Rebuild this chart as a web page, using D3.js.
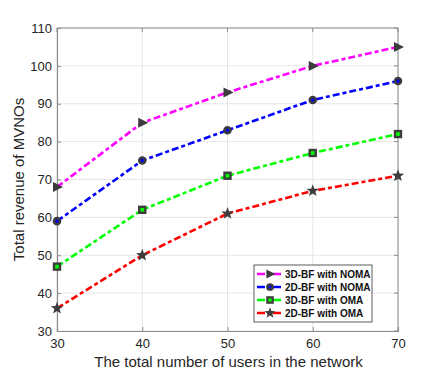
<!DOCTYPE html>
<html>
<head>
<meta charset="utf-8">
<script src="https://cdn.jsdelivr.net/npm/d3@7"></script>
<style>
  body { margin: 0; background: #fff; }
  text { font-family: "Liberation Sans", Arial, sans-serif; }
</style>
</head>
<body>
<svg id="chart" width="440" height="373"></svg>
<script>
const users = [30, 40, 50, 60, 70];
const noma3d = [68, 85, 93, 100, 105];
const noma2d = [59, 75, 83, 91, 96];
const oma3d = [47, 62, 71, 77, 82];
const oma2d = [36, 50, 61, 67, 71];
const seriesNames = ["3D-BF with NOMA", "2D-BF with NOMA", "3D-BF with OMA", "2D-BF with OMA"];
const xTicks = [30, 40, 50, 60, 70];
const yTicks = [30, 40, 50, 60, 70, 80, 90, 100, 110];

const series = [
  { name: seriesNames[0], values: noma3d, color: "#ff00ff", marker: "tri" },
  { name: seriesNames[1], values: noma2d, color: "#0000ff", marker: "circle" },
  { name: seriesNames[2], values: oma3d, color: "#00ff00", marker: "square" },
  { name: seriesNames[3], values: oma2d, color: "#ff0000", marker: "star" }
];

const svg = d3.select("#chart");
const plotL = 57, plotR = 398, plotT = 28, plotB = 331;

const x = d3.scaleLinear().domain([30, 70]).range([plotL, plotR]);
const y = d3.scaleLinear().domain([30, 110]).range([plotB, plotT]);

// grid
svg.append("g").selectAll("line").data(xTicks).join("line")
  .attr("x1", d => x(d)).attr("x2", d => x(d))
  .attr("y1", plotT).attr("y2", plotB)
  .attr("stroke", "#e6e6e6").attr("stroke-width", 1);
svg.append("g").selectAll("line").data(yTicks).join("line")
  .attr("x1", plotL).attr("x2", plotR)
  .attr("y1", d => y(d)).attr("y2", d => y(d))
  .attr("stroke", "#e6e6e6").attr("stroke-width", 1);

// axes
const xAxis = svg.append("g").attr("transform", `translate(0,${plotB})`)
  .call(d3.axisBottom(x).tickValues(xTicks).tickSize(-4).tickPadding(8));
const yAxis = svg.append("g").attr("transform", `translate(${plotL},0)`)
  .call(d3.axisLeft(y).tickValues(yTicks).tickSize(-4).tickPadding(5));
[xAxis, yAxis].forEach(a => {
  a.select(".domain").attr("stroke", "#8c8c8c").attr("stroke-width", 1.2);
  a.selectAll(".tick line").attr("stroke", "#8c8c8c");
  a.selectAll("text").attr("fill", "#262626").style("font-size", "13px")
    .style("font-family", "'Liberation Sans', Arial, sans-serif");
});
// top and right box edges
svg.append("path")
  .attr("d", `M${plotL},${plotT}H${plotR}V${plotB}`)
  .attr("fill", "none").attr("stroke", "#8c8c8c").attr("stroke-width", 1);
svg.append("g").selectAll("line").data(xTicks).join("line")
  .attr("x1", d => x(d)).attr("x2", d => x(d))
  .attr("y1", plotT).attr("y2", plotT + 4).attr("stroke", "#8c8c8c");
svg.append("g").selectAll("line").data(yTicks).join("line")
  .attr("x1", plotR).attr("x2", plotR - 4)
  .attr("y1", d => y(d)).attr("y2", d => y(d)).attr("stroke", "#8c8c8c");

// labels
svg.append("text").attr("x", (plotL + plotR) / 2 + 1).attr("y", 367)
  .attr("text-anchor", "middle").attr("fill", "#262626").style("font-size", "15px")
  .text("The total number of users in the network");
svg.append("text").attr("transform", `translate(24,${(plotT + plotB) / 2}) rotate(-90)`)
  .attr("text-anchor", "middle").attr("fill", "#262626").style("font-size", "15px")
  .text("Total revenue of MVNOs");

const markColor = "#3c3c3c";
function drawMarker(g, type, cx, cy, color, s) {
  s = s || 1;
  if (type === "tri") {
    g.append("path")
      .attr("d", `M${cx - 4 * s},${cy - 5 * s}L${cx + 6 * s},${cy}L${cx - 4 * s},${cy + 5 * s}Z`)
      .attr("fill", markColor);
  } else if (type === "circle") {
    g.append("circle").attr("cx", cx).attr("cy", cy).attr("r", 3 * s)
      .attr("fill", color).attr("stroke", markColor).attr("stroke-width", 2.6 * s);
  } else if (type === "square") {
    g.append("rect").attr("x", cx - 3 * s).attr("y", cy - 3 * s)
      .attr("width", 6 * s).attr("height", 6 * s)
      .attr("fill", color).attr("stroke", markColor).attr("stroke-width", 2.4 * s);
  } else if (type === "star") {
    const pts = [];
    for (let i = 0; i < 10; i++) {
      const r = (i % 2 === 0 ? 6.5 : 2.7) * s;
      const a = -Math.PI / 2 + i * Math.PI / 5;
      pts.push([cx + r * Math.cos(a), cy + r * Math.sin(a)]);
    }
    g.append("path").attr("d", "M" + pts.join("L") + "Z").attr("fill", markColor);
  }
}

const line = d3.line().x((d, i) => x(users[i])).y(d => y(d));

series.forEach(s => {
  svg.append("path").datum(s.values)
    .attr("d", line)
    .attr("fill", "none").attr("stroke", s.color)
    .attr("stroke-width", 2.6)
    .attr("stroke-dasharray", "7,3,4,3");
  const g = svg.append("g");
  s.values.forEach((v, i) => drawMarker(g, s.marker, x(users[i]), y(v), s.color));
});

// legend
const lg = svg.append("g");
lg.append("rect").attr("x", 254).attr("y", 265).attr("width", 118).attr("height", 57)
  .attr("fill", "#fff").attr("stroke", "#333").attr("stroke-width", 0.8);
series.forEach((s, i) => {
  const ly = 274 + i * 13;
  lg.append("line").attr("x1", 257).attr("x2", 283).attr("y1", ly).attr("y2", ly)
    .attr("stroke", s.color).attr("stroke-width", 2.6).attr("stroke-dasharray", "8,2,4,2");
  drawMarker(lg, s.marker, 270, ly, s.color, 0.9);
  lg.append("text").attr("x", 285).attr("y", ly + 3.8)
    .attr("fill", "#111").style("font-size", "10px").style("font-weight", "bold")
    .text(s.name);
});
</script>
</body>
</html>
